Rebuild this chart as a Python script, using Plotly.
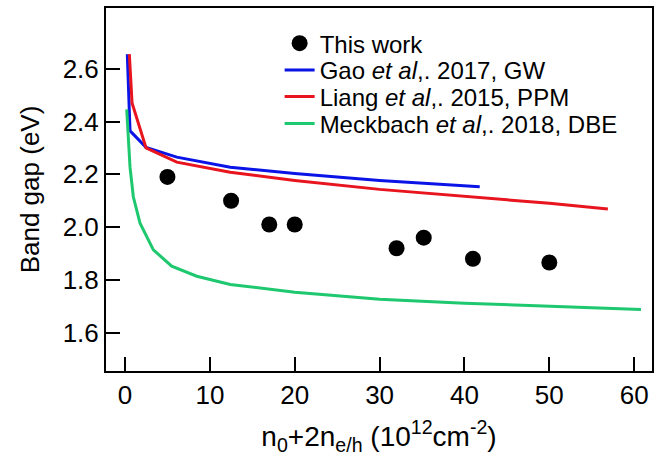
import plotly.graph_objects as go

# This work
work_x = [5.0, 12.5, 17.0, 20.0, 32.0, 35.2, 41.0, 50.0]
work_y = [2.19, 2.10, 2.01, 2.01, 1.92, 1.96, 1.88, 1.866]

# Gao et al. 2017, GW
gao_x = [0.27, 0.59, 2.48, 6.1, 12.4, 20, 30, 41.8]
gao_y = [2.655, 2.365, 2.302, 2.265, 2.227, 2.203, 2.177, 2.153]

# Liang et al. 2015, PPM
liang_x = [0.51, 0.83, 2.48, 6.1, 12.4, 20, 30, 40, 50, 56.9]
liang_y = [2.655, 2.47, 2.30, 2.246, 2.208, 2.177, 2.143, 2.117, 2.09, 2.069]

# Meckbach et al. 2018, DBE
meck_x = [0.2, 0.39, 0.59, 0.98, 1.77, 3.34, 5.5, 8.46, 12.4, 20, 30, 40, 50, 60.8]
meck_y = [2.446, 2.352, 2.227, 2.115, 2.015, 1.914, 1.852, 1.814, 1.783, 1.753, 1.727, 1.712, 1.70, 1.688]

x_ticks = [0, 10, 20, 30, 40, 50, 60]
y_ticks = [1.6, 1.8, 2.0, 2.2, 2.4, 2.6]
y_tick_text = ["1.6", "1.8", "2.0", "2.2", "2.4", "2.6"]

font_family = "Liberation Sans, Arial, sans-serif"

fig = go.Figure()
fig.add_trace(go.Scatter(x=work_x, y=work_y, mode="markers", name="This work",
                         marker=dict(color="black", size=16), legend="legend"))
fig.add_trace(go.Scatter(x=gao_x, y=gao_y, mode="lines", name="Gao <i>et al</i>,. 2017, GW",
                         line=dict(color="#0a14e6", width=3), legend="legend2"))
fig.add_trace(go.Scatter(x=liang_x, y=liang_y, mode="lines", name="Liang <i>et al</i>,. 2015, PPM",
                         line=dict(color="#e8141e", width=3), legend="legend3"))
fig.add_trace(go.Scatter(x=meck_x, y=meck_y, mode="lines", name="Meckbach <i>et al</i>,. 2018, DBE",
                         line=dict(color="#1ec86e", width=3), legend="legend4"))

axis_common = dict(showline=True, linecolor="black", linewidth=2, mirror=True,
                   ticks="inside", ticklen=14, tickwidth=2, tickcolor="black",
                   showgrid=False, zeroline=False,
                   tickfont=dict(size=26, color="black", family=font_family))

fig.update_xaxes(range=[-2.24, 62.1], tickvals=x_ticks,
                 title=dict(text="n<sub>0</sub>+2n<sub>e/h</sub> (10<sup>12</sup>cm<sup>-2</sup>)",
                            font=dict(size=28, color="black", family=font_family), standoff=20),
                 **axis_common)
fig.update_yaxes(range=[1.455, 2.83], tickvals=y_ticks, ticktext=y_tick_text,
                 title=dict(text="Band gap (eV)", font=dict(size=26, color="black", family=font_family),
                            standoff=16),
                 **axis_common)

legend_font = dict(size=24, color="black", family=font_family)
def leg(y):
    return dict(x=0.318, y=y, xanchor="left", yanchor="middle",
                bgcolor="rgba(0,0,0,0)", font=legend_font)

fig.update_layout(
    width=665, height=456,
    margin=dict(l=106, r=13, t=6, b=84),
    paper_bgcolor="white", plot_bgcolor="white",
    font=dict(family=font_family, color="black"),
    legend=leg(0.902), legend2=leg(0.828), legend3=leg(0.755), legend4=leg(0.681),
    showlegend=True,
)

fig.write_html("out.html")
